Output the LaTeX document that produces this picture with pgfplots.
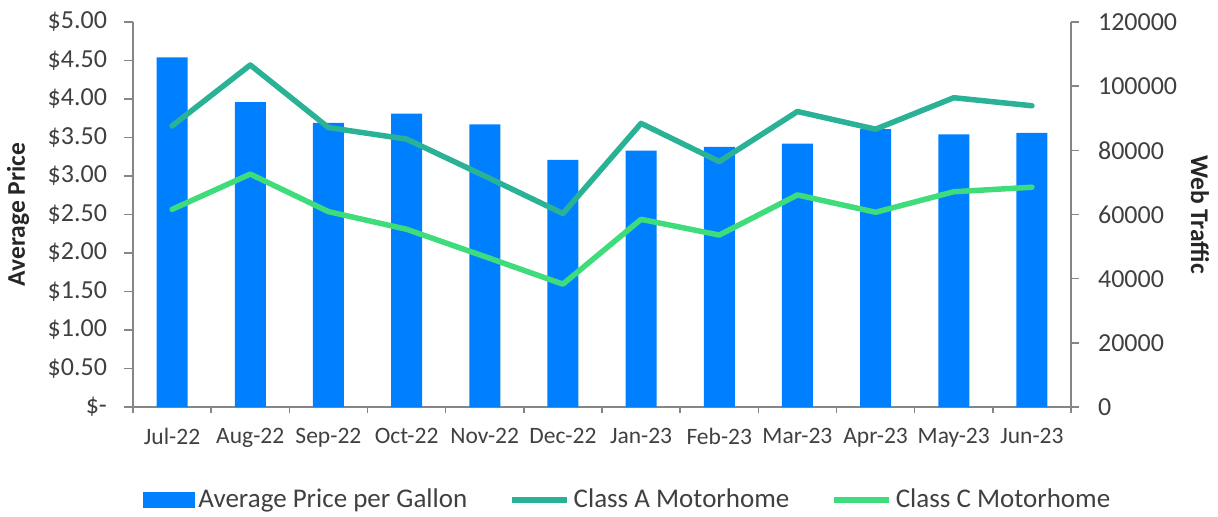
\documentclass[border=0pt]{standalone}
\usepackage{fontspec}
\setmainfont{Carlito}
\usepackage{pgfplots}
\pgfplotsset{compat=1.18}
\definecolor{barblue}{RGB}{0,128,255}
\definecolor{classA}{RGB}{42,178,150}
\definecolor{classC}{RGB}{62,220,122}
\definecolor{axgray}{RGB}{134,134,134}
\definecolor{txt}{RGB}{64,64,64}
\definecolor{lbl}{RGB}{38,38,38}
\pgfplotsset{
  lineleg/.style={legend image code/.code={\draw[##1, line cap=butt] (0pt,0pt) -- (27.5pt,0pt);}},
  boxleg/.style={legend image code/.code={\fill[barblue] (0pt,-3.75pt) rectangle (25.5pt,3.75pt);}},
}
\begin{document}
\begin{tikzpicture}
\path[use as bounding box] (-66.5pt,-54.5pt) rectangle (542.5pt,203.5pt);
\begin{axis}[
  at={(0,0)}, anchor=south west, scale only axis,
  width=469pt, height=192.5pt,
  xmin=-0.5, xmax=11.5, ymin=0, ymax=5,
  axis x line*=bottom, axis y line*=left,
  axis line style={draw=axgray, line width=0.75pt},
  tick align=outside,
  major tick length=4.5pt,
  minor tick length=3pt,
  tick style={draw=axgray, line width=0.75pt},
  major x tick style={draw=none},
  xtick={0,1,2,3,4,5,6,7,8,9,10,11},
  minor xtick={-0.5,0.5,1.5,2.5,3.5,4.5,5.5,6.5,7.5,8.5,9.5,10.5,11.5},
  xticklabels={Jul-22,Aug-22,Sep-22,Oct-22,Nov-22,Dec-22,Jan-23,Feb-23,Mar-23,Apr-23,May-23,Jun-23},
  xticklabel style={font=\fontsize{11.75}{14}\selectfont, text=txt, yshift=-2.5pt},
  ytick={0,0.5,1,1.5,2,2.5,3,3.5,4,4.5,5},
  yticklabels={\$-\hspace{5.5pt},\$0.50,\$1.00,\$1.50,\$2.00,\$2.50,\$3.00,\$3.50,\$4.00,\$4.50,\$5.00},
  yticklabel style={font=\fontsize{13}{15}\selectfont, text=txt, xshift=-5pt},
  ylabel={Average Price},
  ylabel style={at={(axis description cs:-0.1226,0.5)}, anchor=center, font=\bfseries\fontsize{12.75}{15}\selectfont, text=lbl},
  clip=false,
]
\addplot[ybar, bar width=15.5pt, fill=barblue, draw=none] coordinates {
(0,4.54) (1,3.96) (2,3.69) (3,3.81) (4,3.67) (5,3.21)
(6,3.33) (7,3.38) (8,3.42) (9,3.61) (10,3.54) (11,3.56)};
\end{axis}
\begin{axis}[
  at={(0,0)}, anchor=south west, scale only axis,
  width=469pt, height=192.5pt,
  xmin=-0.5, xmax=11.5, ymin=0, ymax=120000,
  axis x line=none, axis y line*=right,
  axis line style={draw=axgray, line width=0.75pt},
  tick align=outside,
  major tick length=4pt,
  tick style={draw=axgray, line width=0.75pt},
  scaled y ticks=false,
  ytick={0,20000,40000,60000,80000,100000,120000},
  yticklabels={0,20000,40000,60000,80000,100000,120000},
  yticklabel style={font=\fontsize{13}{15}\selectfont, text=txt, xshift=6pt},
  ylabel={Web Traffic},
  ylabel style={at={(axis description cs:1.1375,0.5)}, anchor=center, rotate=180, font=\bfseries\fontsize{12.75}{15}\selectfont, text=lbl},
  clip=false,
  legend columns=3,
  legend cell align=left,
  legend style={at={(axis description cs:0.5282,-0.2416)}, anchor=center, draw=none, fill=none,
    font=\fontsize{13.5}{15}\selectfont, text=txt,
    /tikz/every even column/.append style={column sep=19pt}},
]
\addlegendimage{boxleg}
\addlegendentry{Average Price per Gallon}
\addplot[classA, line width=2.75pt, line join=round, line cap=round, lineleg] coordinates {
(0,87600) (1,106600) (2,87100) (3,83500) (4,72000) (5,60300)
(6,88400) (7,76500) (8,92100) (9,86600) (10,96400) (11,93900)};
\addlegendentry{Class A Motorhome}
\addplot[classC, line width=2.75pt, line join=round, line cap=round, lineleg] coordinates {
(0,61600) (1,72600) (2,60900) (3,55400) (4,46900) (5,38300)
(6,58500) (7,53600) (8,66100) (9,60700) (10,67100) (11,68500)};
\addlegendentry{Class C Motorhome}
\end{axis}
\end{tikzpicture}
\end{document}
